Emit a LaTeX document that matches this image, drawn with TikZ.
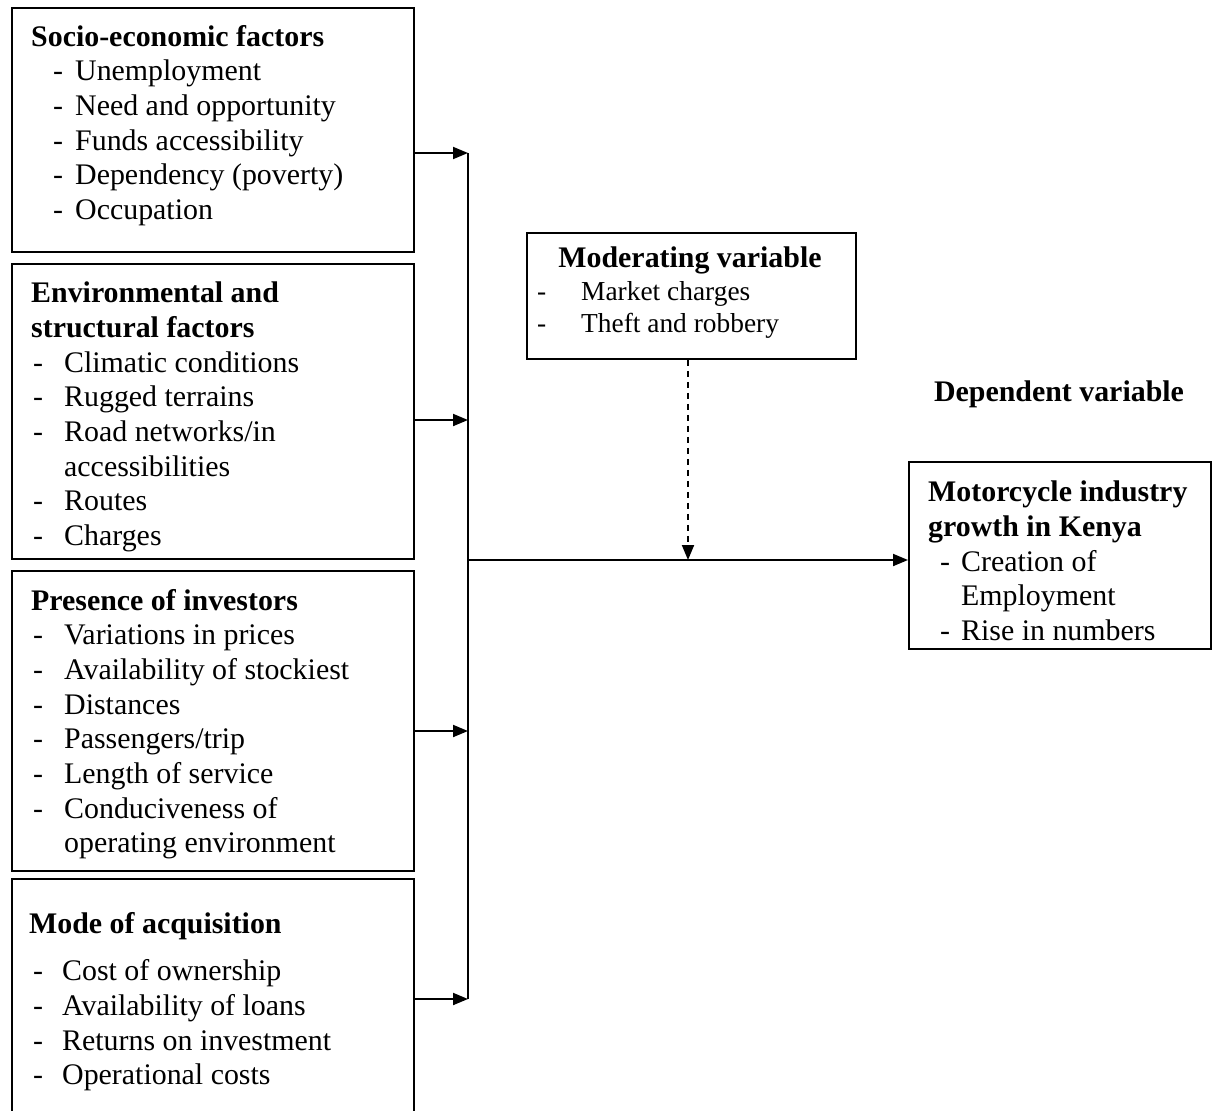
\documentclass[tikz,border=0pt]{standalone}
\usepackage{fontspec}
\setmainfont{Liberation Serif}
\usetikzlibrary{arrows.meta}
\tikzset{box/.style={draw, line width=1.9bp, anchor=north west, inner sep=0pt},
  txt/.style={anchor=north west, align=left, inner sep=0pt, font=\fontsize{30}{34.8}\selectfont},
  small/.style={anchor=north west, align=left, inner sep=0pt, font=\fontsize{27.5}{32}\selectfont},
  arr/.style={-{Triangle[length=15bp,width=12bp]}, line width=1.9bp}}
\newcommand{\itm}[2]{\hspace*{#1}\makebox[#2][l]{-}}

\begin{document}
\begin{tikzpicture}[x=1bp,y=-1bp]
	\useasboundingbox (0,0) rectangle (1212,1111);
	% boxes
	\node[box, minimum width=402bp, minimum height=244bp] (socio) at (11,7) {};
	\node[box, minimum width=402bp, minimum height=295bp] (envir) at (11,263) {};
	\node[box, minimum width=402bp, minimum height=300bp] (invest) at (11,570) {};
	\node[box, minimum width=402bp, minimum height=260bp] (acquis) at (11,878) {};
	\node[box, minimum width=329bp, minimum height=126bp] (moder) at (526,232) {};
	\node[box, minimum width=302bp, minimum height=187bp] (growth) at (908,461) {};
	% texts
	\node[txt] (sociotxt) at (31,25) {\textbf{Socio-economic factors}\\
		\itm{22bp}{22bp}Unemployment\\
		\itm{22bp}{22bp}Need and opportunity\\
		\itm{22bp}{22bp}Funds accessibility\\
		\itm{22bp}{22bp}Dependency (poverty)\\
		\itm{22bp}{22bp}Occupation};
	\node[txt] (envirtxt) at (31,282) {\textbf{Environmental and}\\
		\textbf{structural factors}\\
		\itm{2bp}{31bp}Climatic conditions\\
		\itm{2bp}{31bp}Rugged terrains\\
		\itm{2bp}{31bp}Road networks/in\\
		\hspace*{33bp}accessibilities\\
		\itm{2bp}{31bp}Routes\\
		\itm{2bp}{31bp}Charges};
	\node[txt] (investtxt) at (31,589) {\textbf{Presence of investors}\\
		\itm{2bp}{31bp}Variations in prices\\
		\itm{2bp}{31bp}Availability of stockiest\\
		\itm{2bp}{31bp}Distances\\
		\itm{2bp}{31bp}Passengers/trip\\
		\itm{2bp}{31bp}Length of service\\
		\itm{2bp}{31bp}Conduciveness of\\
		\hspace*{33bp}operating environment};
	\node[txt] (acquistxt) at (29,912) {\textbf{Mode of acquisition}\\[13bp]
		\itm{4bp}{29bp}Cost of ownership\\
		\itm{4bp}{29bp}Availability of loans\\
		\itm{4bp}{29bp}Returns on investment\\
		\itm{4bp}{29bp}Operational costs};
	\node[txt, anchor=north] (modertitle) at (690,247) {\textbf{Moderating variable}};
	\node[small] (modertxt) at (537,281) {\itm{0bp}{44bp}Market charges\\
		\itm{0bp}{44bp}Theft and robbery};
	\node[txt, anchor=center] (deptitle) at (1059,394) {\textbf{Dependent variable}};
	\node[txt] (growthtxt) at (928,481) {\textbf{Motorcycle industry}\\
		\textbf{growth in Kenya}\\
		\itm{12bp}{21bp}Creation of\\
		\hspace*{33bp}Employment\\
		\itm{12bp}{21bp}Rise in numbers};
	% connectors
	\coordinate (j1) at (468,153);
	\coordinate (j2) at (468,420);
	\coordinate (j3) at (468,731);
	\coordinate (j4) at (468,999);
	\coordinate (jm) at (468,560);
	\draw[line width=1.9bp] (j1) -- (j4);
	\draw[arr] (socio.east |- j1) -- (j1);
	\draw[arr] (envir.east |- j2) -- (j2);
	\draw[arr] (invest.east |- j3) -- (j3);
	\draw[arr] (acquis.east |- j4) -- (j4);
	\draw[arr] (jm) -- (growth.west |- jm);
	\draw[arr, dashed, dash pattern=on 6bp off 5bp] (moder.south -| 688,0) -- (688,560);
\end{tikzpicture}
\end{document}
